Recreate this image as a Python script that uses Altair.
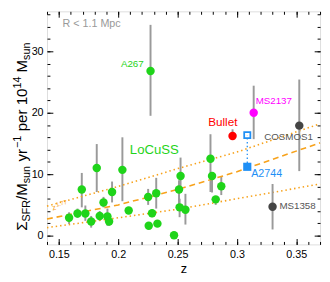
import altair as alt
import pandas as pd

# ---------------- data ----------------
# LoCuSS clusters: redshift, SFR per mass, error-bar low / high
loc_z = [0.1586, 0.1657, 0.1693, 0.1723, 0.1772, 0.1819, 0.1844, 0.1876, 0.1909,
         0.1923, 0.1948, 0.2035, 0.2088, 0.2252, 0.2285, 0.2257, 0.2330, 0.2320,
         0.2470, 0.2525, 0.2512, 0.2517, 0.2566, 0.2777, 0.2790, 0.2868, 0.2821]
loc_sfr = [2.9, 3.6, 7.5, 3.6, 2.3, 11.0, 3.2, 5.4, 3.1,
           2.3, 7.1, 10.7, 4.1, 6.3, 3.65, 1.6, 1.95, 6.9,
           0.05, 9.7, 7.5, 4.6, 4.2, 12.5, 9.7, 8.05, 5.9]
loc_lo = [1.9, 2.9, 4.6, 2.4, 1.3, 7.1, 2.4, 4.6, 1.6,
          1.6, 5.4, 5.6, 4.1, 5.0, 3.0, 1.6, 1.95, 4.4,
          0.05, 7.0, 4.4, 3.0, 1.8, 7.1, 7.0, 6.6, 5.0]
loc_hi = [3.8, 4.4, 10.2, 4.9, 3.2, 14.9, 4.0, 6.3, 4.4,
          3.0, 8.8, 16.0, 4.1, 7.6, 4.3, 1.6, 1.95, 9.4,
          0.05, 12.7, 9.0, 6.0, 6.8, 16.5, 9.7, 9.7, 6.0]

# named clusters
cl_name = ["A267", "Bullet", "MS2137", "COSMOS1", "MS1358", "A2744"]
cl_z = [0.2272, 0.2963, 0.3141, 0.3525, 0.3300, 0.3087]
cl_sfr = [26.8, 16.2, 20.0, 17.9, 4.7, 11.2]
cl_lo = [19.5, 15.6, 15.7, 10.5, 1.0, 11.2]
cl_hi = [34.3, 17.3, 24.4, 25.4, 8.4, 11.2]
a2744_open_sfr = 16.35

# z^1.77 trend and its envelope
fit_z = [0.14, 0.20, 0.25, 0.30, 0.37]
fit_mid = [2.7, 5.0, 7.5, 10.4, 15.1]
fit_hi = [4.8, 8.0, 10.9, 13.6, 18.2]
fit_lo = [1.3, 2.9, 4.3, 6.0, 8.4]

x_major = [0.15, 0.2, 0.25, 0.3, 0.35]
x_minor = [round(0.14 + 0.01 * i, 2) for i in range(24)]
y_major = [0, 10, 20, 30]
y_minor = list(range(0, 37, 2))

# ---------------- chart ----------------
FONT = "Liberation Sans"
W, H = 280, 239
xs = alt.Scale(domain=[0.14, 0.37], nice=False, zero=False)
ys = alt.Scale(domain=[-1.43, 36.5], nice=False, zero=False)

loc = pd.DataFrame({"z": loc_z, "s": loc_sfr, "lo": loc_lo, "hi": loc_hi})
cl = pd.DataFrame({"name": cl_name, "z": cl_z, "s": cl_sfr, "lo": cl_lo, "hi": cl_hi})
fit = pd.DataFrame({"z": fit_z, "mid": fit_mid, "hi": fit_hi, "lo": fit_lo})

def X(field="z", axis=None):
    return alt.X(field, type="quantitative", scale=xs, axis=axis)

def Y(field, axis=None):
    return alt.Y(field, type="quantitative", scale=ys, axis=axis)

common = dict(domain=False, grid=False, tickColor="black", tickWidth=1)
ax_xb = alt.Axis(orient="bottom", values=x_major, format="~g", tickSize=6, offset=-6,
                 labelFontSize=11, labelFont=FONT, labelPadding=4, labelColor="black",
                 title="z", titleFont=FONT, titleFontSize=13, titleFontWeight="normal",
                 titlePadding=4, titleColor="black", **common)
ax_xb_m = alt.Axis(orient="bottom", values=x_minor, tickSize=3, offset=-3, labels=False,
                   title=None, **common)
ax_xt = alt.Axis(orient="top", values=x_major, tickSize=6, offset=-6, labels=False,
                 title=None, **common)
ax_xt_m = alt.Axis(orient="top", values=x_minor, tickSize=3, offset=-3, labels=False,
                   title=None, **common)
ax_yl = alt.Axis(orient="left", values=y_major, tickSize=6, offset=-6, labelFontSize=11,
                 labelFont=FONT, labelPadding=4, labelColor="black", title=None, **common)
ax_yl_m = alt.Axis(orient="left", values=y_minor, tickSize=3, offset=-3, labels=False,
                   title=None, **common)
ax_yr = alt.Axis(orient="right", values=y_major, tickSize=6, offset=-6, labels=False,
                 title=None, **common)
ax_yr_m = alt.Axis(orient="right", values=y_minor, tickSize=3, offset=-3, labels=False,
                   title=None, **common)

ORANGE = "#f7a21b"
GREEN = "#1fd41a"
GREY = "#9a9a9a"

l_mid = alt.Chart(fit).mark_line(color=ORANGE, strokeWidth=1.6, strokeDash=[6, 4]).encode(
    x=X(axis=ax_xb_m), y=Y("mid", axis=ax_yl_m))
l_hi = alt.Chart(fit).mark_line(color=ORANGE, strokeWidth=1.6, strokeDash=[1.5, 3]).encode(
    x=X(axis=ax_xt), y=Y("hi", axis=ax_yr))
l_lo = alt.Chart(fit).mark_line(color=ORANGE, strokeWidth=1.6, strokeDash=[1.5, 3]).encode(
    x=X(axis=ax_xt_m), y=Y("lo", axis=ax_yr_m))

eb_loc = alt.Chart(loc).mark_rule(color=GREY, strokeWidth=2).encode(
    x=X(axis=ax_xb), y=Y("lo", axis=ax_yl), y2="hi")
eb_cl = alt.Chart(cl).mark_rule(color=GREY, strokeWidth=2).encode(
    x=X(), y=Y("lo"), y2="hi")

pts_loc = alt.Chart(loc).mark_circle(color=GREEN, size=75, opacity=1).encode(
    x=X(), y=Y("s"))

cl_colors = {"A267": GREEN, "Bullet": "#ff0000", "MS2137": "#ff00ff",
             "COSMOS1": "#444444", "MS1358": "#444444"}
cl_pts = []
for nm, c in cl_colors.items():
    cl_pts.append(alt.Chart(cl).transform_filter(alt.datum.name == nm)
                  .mark_circle(color=c, size=75, opacity=1).encode(x=X(), y=Y("s")))

BLUE = "#1f8ff5"
a2744 = cl[cl.name == "A2744"].copy()
a2744["open"] = a2744_open_sfr
blue_link = alt.Chart(a2744).mark_rule(color=BLUE, strokeWidth=1.3, strokeDash=[1.5, 2.5]).encode(
    x=X(), y=Y("s"), y2="open")
blue_fill = alt.Chart(a2744).mark_square(color=BLUE, size=70, opacity=1, filled=True).encode(
    x=X(), y=Y("s"))
blue_open = alt.Chart(a2744).mark_square(color=BLUE, size=40, filled=False, strokeWidth=1.8,
                                         opacity=1).encode(x=X(), y=Y("open"))

lab_cfg = {
    "A267": dict(color=GREEN, size=10, align="right", dx=-7, dy=-7),
    "Bullet": dict(color="#ff0000", size=12, align="center", dx=-10, dy=-14),
    "MS2137": dict(color="#ff00ff", size=10, align="left", dx=2, dy=-12),
    "COSMOS1": dict(color="#555555", size=10, align="right", dx=14, dy=12),
    "MS1358": dict(color="#555555", size=10, align="left", dx=7, dy=-1),
    "A2744": dict(color=BLUE, size=11, align="left", dx=4, dy=7),
}
labels = []
for nm, c in lab_cfg.items():
    labels.append(alt.Chart(cl).transform_filter(alt.datum.name == nm)
                  .mark_text(font=FONT, baseline="middle", **{k: v for k, v in c.items() if k != "size"},
                             fontSize=c["size"])
                  .encode(x=X(), y=Y("s"), text="name:N"))

notes = pd.DataFrame({"t": ["LoCuSS", "R < 1.1 Mpc"], "z": [0.2098, 0.1531], "s": [13.97, 34.4]})
locuss_txt = alt.Chart(notes).transform_filter(alt.datum.t == "LoCuSS").mark_text(
    font=FONT, fontSize=13.5, color=GREEN, align="left", baseline="middle").encode(
    x=X(), y=Y("s"), text="t:N")
r_txt = alt.Chart(notes).transform_filter(alt.datum.t == "R < 1.1 Mpc").mark_text(
    font=FONT, fontSize=11, color="#999999", align="left", baseline="middle").encode(
    x=X(), y=Y("s"), text="t:N")

# z^1.77 annotation on the trend line
pw = pd.DataFrame({"t": ["z", "1.77"], "z": [0.1445, 0.1475], "s": [4.4, 5.0]})
pw_z = alt.Chart(pw).transform_filter(alt.datum.t == "z").mark_text(
    font=FONT, fontSize=8, color=ORANGE, align="left", baseline="middle", angle=345).encode(
    x=X(), y=Y("s"), text="t:N")
pw_e = alt.Chart(pw).transform_filter(alt.datum.t == "1.77").mark_text(
    font=FONT, fontSize=6, color=ORANGE, align="left", baseline="middle", angle=345).encode(
    x=X(), y=Y("s"), text="t:N")

# y-axis title built from pieces: (text, font size, baseline x, start y) in plot pixels
MAIN_X, SUB_X, SUP_X = -21, -17, -27
title_pieces = [
    ("Σ", 15.5, MAIN_X, 225), ("SFR", 11, SUB_X, 215.5), ("/M", 15.5, MAIN_X, 193.5),
    ("sun", 11, SUB_X, 176.3), ("yr", 15.5, MAIN_X, 154.0), ("−1", 11, SUP_X, 140.2),
    ("per", 15.5, MAIN_X, 123.0), ("10", 15.5, MAIN_X, 96.4), ("14", 11, SUP_X, 79.2),
    ("M", 15.5, MAIN_X, 62.6), ("sun", 11, SUB_X, 49.8),
]
ytitle = []
for txt, fs, px, py in title_pieces:
    ytitle.append(alt.Chart(pd.DataFrame({"t": [txt]})).mark_text(
        font=FONT, fontSize=fs, color="black", angle=270, align="left", baseline="alphabetic").encode(
        x=alt.value(px), y=alt.value(py), text="t:N"))

chart = alt.layer(
    eb_loc, l_mid, l_hi, l_lo, eb_cl, blue_link, pts_loc, *cl_pts, blue_fill, blue_open,
    *labels, locuss_txt, r_txt, pw_z, pw_e, *ytitle
).resolve_axis(x="independent", y="independent").properties(
    width=W, height=H,
    autosize=alt.AutoSizeParams(type="none"),
    padding={"left": 40, "top": 0, "right": 2, "bottom": 30},
).configure_view(stroke="black", strokeWidth=1.5).configure(background="white")

chart.save("out.html", embed_options={"renderer": "svg", "actions": False})
